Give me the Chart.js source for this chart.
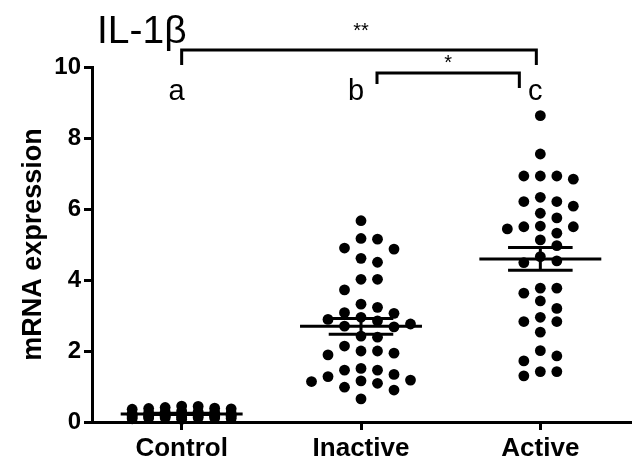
<!DOCTYPE html>
<html>
<head>
<meta charset="utf-8">
<script src="https://cdn.jsdelivr.net/npm/chart.js@4.4.1/dist/chart.umd.min.js"></script>
<style>
  html, body { margin: 0; padding: 0; background: #fff; }
  #wrap { width: 638px; height: 469px; }
</style>
</head>
<body>
<div id="wrap"><canvas id="chart" width="638" height="469"></canvas></div>
<script>
const chartTitle = 'IL-1β';
const yTitle = 'mRNA expression';
const groups = ['Control', 'Inactive', 'Active'];
const letters = ['a', 'b', 'c'];
const yTicks = [0, 2, 4, 6, 8, 10];

const controlVals = [0.44, 0.38, 0.45, 0.36, 0.41, 0.37, 0.39, 0.28, 0.21, 0.16, 0.25, 0.12,
  0.19, 0.31, 0.09, 0.23, 0.14, 0.27, 0.11, 0.18, 0.22, 0.08, 0.15, 0.26, 0.13, 0.2, 0.1,
  0.17, 0.24, 0.12, 0.19, 0.15, 0.29, 0.11, 0.21, 0.16];
const inactiveVals = [5.67, 5.17, 5.15, 4.90, 4.87, 4.61, 4.50, 4.02, 4.02, 3.72, 3.32, 3.23,
  3.06, 3.08, 2.95, 2.85, 2.89, 2.70, 2.68, 2.76, 2.42, 2.39, 2.14, 2.00, 1.94, 2.00, 1.89,
  1.46, 1.51, 1.34, 1.46, 1.18, 1.16, 0.98, 1.14, 0.90, 1.28, 1.09, 0.65];
const activeVals = [8.63, 7.55, 6.93, 6.93, 6.93, 6.84, 6.33, 6.21, 6.21, 6.08, 5.88, 5.75,
  5.50, 5.44, 5.50, 5.52, 5.32, 5.13, 4.97, 4.54, 4.49, 4.66, 3.77, 3.77, 3.63, 3.41, 3.20,
  2.83, 2.83, 2.95, 2.53, 2.01, 1.86, 1.72, 1.42, 1.30, 1.42];

const allVals = [controlVals, inactiveVals, activeVals];
const FONT = '"Liberation Sans", Arial, sans-serif';

// column-scatter layout: each point goes to the nearest free slot around the category
const SLOT = 0.092, GAP = 0.34;
function swarm(vals, center) {
  const order = [0, 1, -1, 2, -2, 3, -3];
  const cols = {};
  order.forEach(s => cols[s] = []);
  return vals.slice().sort((a, b) => b - a).map(v => {
    let best = 0, bestD = -1;
    for (const s of order) {
      const d = cols[s].reduce((m, p) => Math.min(m, Math.abs(p - v)), Infinity);
      if (d >= GAP) { best = s; break; }
      if (d > bestD) { bestD = d; best = s; }
    }
    cols[best].push(v);
    return { x: center + best * SLOT, y: v };
  });
}

function stats(vals) {
  const n = vals.length;
  const mean = vals.reduce((a, b) => a + b, 0) / n;
  const sd = Math.sqrt(vals.reduce((a, v) => a + (v - mean) ** 2, 0) / (n - 1));
  return { mean, sem: sd / Math.sqrt(n) };
}

const meanSem = {
  id: 'meanSem',
  afterDatasetsDraw(chart) {
    const { ctx, scales: { x, y } } = chart;
    ctx.save();
    ctx.strokeStyle = '#000';
    ctx.lineWidth = 3;
    allVals.forEach((vals, i) => {
      const c = i + 1;
      const st = stats(vals);
      const ym = y.getPixelForValue(st.mean);
      const yu = y.getPixelForValue(st.mean + st.sem);
      const yl = y.getPixelForValue(st.mean - st.sem);
      ctx.beginPath();
      ctx.moveTo(x.getPixelForValue(c - 0.34), ym);
      ctx.lineTo(x.getPixelForValue(c + 0.34), ym);
      ctx.moveTo(x.getPixelForValue(c - 0.18), yu);
      ctx.lineTo(x.getPixelForValue(c + 0.18), yu);
      ctx.moveTo(x.getPixelForValue(c - 0.18), yl);
      ctx.lineTo(x.getPixelForValue(c + 0.18), yl);
      ctx.moveTo(x.getPixelForValue(c), yu);
      ctx.lineTo(x.getPixelForValue(c), yl);
      ctx.stroke();
    });
    ctx.restore();
  },
};

const annotations = {
  id: 'annotations',
  afterDraw(chart) {
    const { ctx, chartArea: area, scales: { x } } = chart;
    const top = area.top;
    const x1 = x.getPixelForValue(1), x2 = x.getPixelForValue(2), x3 = x.getPixelForValue(3);
    ctx.save();
    ctx.fillStyle = '#000';
    ctx.strokeStyle = '#000';
    ctx.lineWidth = 3;

    ctx.font = '39px ' + FONT;
    ctx.textAlign = 'left';
    ctx.textBaseline = 'alphabetic';
    ctx.fillText(chartTitle, area.left + 5, top - 24);

    ctx.font = '29px ' + FONT;
    ctx.textAlign = 'center';
    letters.forEach((l, i) => ctx.fillText(l, x.getPixelForValue(i + 1) - 5, top + 33));

    // brackets
    ctx.beginPath();
    ctx.moveTo(x1, top - 2);
    ctx.lineTo(x1, top - 17);
    ctx.lineTo(x3 - 4, top - 17);
    ctx.lineTo(x3 - 4, top - 2);
    ctx.moveTo(x2 + 16, top + 17);
    ctx.lineTo(x2 + 16, top + 6);
    ctx.lineTo(x3 - 21, top + 6);
    ctx.lineTo(x3 - 21, top + 21);
    ctx.stroke();

    ctx.font = '20px ' + FONT;
    ctx.textBaseline = 'middle';
    ctx.fillText('**', x2, top - 36);
    ctx.fillText('*', (x2 + 16 + x3 - 21) / 2, top - 4);
    ctx.restore();
  },
};

const axisGrid = { drawOnChartArea: false, drawTicks: true, tickLength: 8, lineWidth: 3, color: '#000' };
const axisBorder = { display: true, color: '#000', width: 3 };

new Chart(document.getElementById('chart'), {
  type: 'scatter',
  data: {
    datasets: allVals.map((vals, i) => ({
      label: groups[i],
      data: swarm(vals, i + 1),
      pointRadius: 5.4,
      pointBackgroundColor: '#000',
      pointBorderWidth: 0,
      clip: false,
    })),
  },
  options: {
    responsive: false,
    animation: false,
    events: [],
    layout: { padding: { top: 67, right: 8, left: 0, bottom: 0 } },
    scales: {
      x: {
        type: 'linear',
        min: 0.5,
        max: 3.5,
        afterBuildTicks: (s) => { s.ticks = groups.map((g, i) => ({ value: i + 1 })); },
        afterFit: (s) => { s.height = 47; },
        ticks: {
          callback: (v) => groups[v - 1] || '',
          font: { family: FONT, size: 26, weight: 'bold' },
          color: '#000',
          padding: 3,
          maxRotation: 0,
          autoSkip: false,
        },
        grid: axisGrid,
        border: axisBorder,
      },
      y: {
        min: 0,
        max: 10,
        afterBuildTicks: (s) => { s.ticks = yTicks.map(v => ({ value: v })); },
        afterFit: (s) => { s.width = 92; },
        ticks: {
          font: { family: FONT, size: 24, weight: 'bold' },
          color: '#000',
          padding: 3,
        },
        grid: axisGrid,
        border: axisBorder,
        title: {
          display: true,
          text: yTitle,
          font: { family: FONT, size: 27, weight: 'bold' },
          color: '#000',
          padding: { top: 17, bottom: 0 },
        },
      },
    },
    plugins: {
      legend: { display: false },
      tooltip: { enabled: false },
    },
  },
  plugins: [meanSem, annotations],
});
</script>
</body>
</html>
